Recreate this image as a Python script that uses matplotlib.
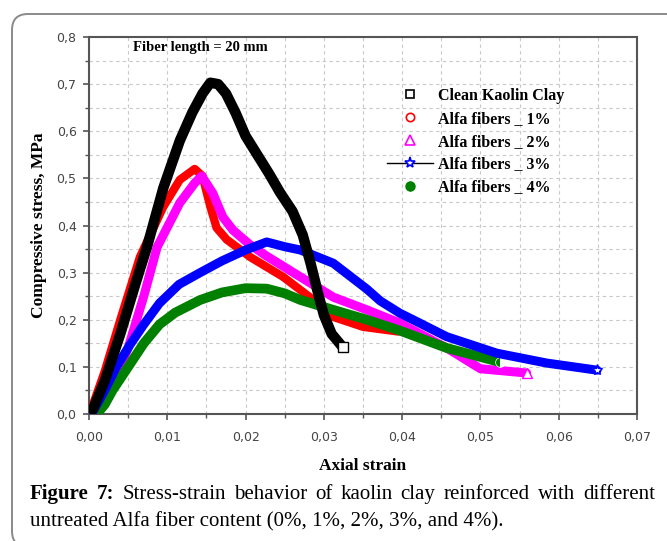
import matplotlib
matplotlib.use("Agg")
import matplotlib.pyplot as plt
from matplotlib.patches import FancyBboxPatch
from matplotlib.lines import Line2D
from matplotlib.ticker import MultipleLocator, FuncFormatter

# ---- data ----
clean_x = [0.0005, 0.002, 0.004, 0.006, 0.0074, 0.0095, 0.0116, 0.0132, 0.0145, 0.0155,
           0.0165, 0.0175, 0.0187, 0.020, 0.0215, 0.023, 0.0244, 0.026, 0.0273, 0.0283,
           0.0292, 0.030, 0.031, 0.0324]
clean_y = [0.01, 0.07, 0.17, 0.28, 0.354, 0.48, 0.58, 0.64, 0.68, 0.703,
           0.70, 0.68, 0.64, 0.59, 0.55, 0.51, 0.47, 0.43, 0.38, 0.32,
           0.26, 0.21, 0.17, 0.142]

f1_x = [0.0003, 0.002, 0.004, 0.0065, 0.0095, 0.0116, 0.0135, 0.0145, 0.0155, 0.0163,
        0.0176, 0.0206, 0.0248, 0.0282, 0.0312, 0.035, 0.0395]
f1_y = [0.01, 0.09, 0.20, 0.333, 0.44, 0.497, 0.52, 0.505, 0.44, 0.395,
        0.37, 0.333, 0.291, 0.248, 0.206, 0.185, 0.175]

f2_x = [0.001, 0.003, 0.005, 0.007, 0.0087, 0.0116, 0.0135, 0.0144, 0.0158, 0.0171,
        0.0184, 0.0205, 0.0227, 0.027, 0.0312, 0.0355, 0.0397, 0.0457, 0.050, 0.0559]
f2_y = [0.005, 0.06, 0.14, 0.25, 0.354, 0.448, 0.49, 0.505, 0.469, 0.418,
        0.39, 0.36, 0.335, 0.291, 0.248, 0.221, 0.193, 0.14, 0.096, 0.087]

f3_x = [0.0005, 0.002, 0.0035, 0.0052, 0.007, 0.009, 0.0115, 0.0142, 0.017, 0.020,
        0.0227, 0.025, 0.027, 0.0312, 0.0355, 0.0372, 0.0397, 0.0414, 0.0457, 0.0521,
        0.0585, 0.0649]
f3_y = [0.005, 0.05, 0.10, 0.146, 0.19, 0.235, 0.275, 0.30, 0.325, 0.348,
        0.365, 0.355, 0.348, 0.32, 0.265, 0.24, 0.214, 0.20, 0.164, 0.129,
        0.108, 0.093]

f4_x = [0.001, 0.002, 0.003, 0.005, 0.007, 0.009, 0.011, 0.0142, 0.017, 0.020,
        0.0227, 0.025, 0.027, 0.0312, 0.0355, 0.0397, 0.0457, 0.0525]
f4_y = [0.0, 0.02, 0.05, 0.10, 0.15, 0.19, 0.215, 0.242, 0.258, 0.267,
        0.266, 0.256, 0.242, 0.221, 0.20, 0.177, 0.14, 0.11]

labels = ["Clean Kaolin Clay", "Alfa fibers _ 1%", "Alfa fibers _ 2%",
          "Alfa fibers _ 3%", "Alfa fibers _ 4%"]
x_ticks = [0.00, 0.01, 0.02, 0.03, 0.04, 0.05, 0.06, 0.07]
y_ticks = [0.0, 0.1, 0.2, 0.3, 0.4, 0.5, 0.6, 0.7, 0.8]

W, H = 667, 541
fig = plt.figure(figsize=(W / 100, H / 100), dpi=100)

# rounded outer frame
frame = FancyBboxPatch((12, -6), 700, 533, boxstyle="round,pad=0,rounding_size=16",
                       transform=None, facecolor="white", edgecolor="#8a8a8a",
                       linewidth=1.4, zorder=-10)
fig.patches.append(frame)

ax = fig.add_axes([89 / W, 1 - 414 / H, (637 - 89) / W, (414 - 37) / H])
ax.set_xlim(0, 0.07)
ax.set_ylim(0, 0.8)

series = [
    (clean_x, clean_y, "black", "s", 7.5, 7),
    (f1_x, f1_y, "#ff0000", "o", 6.0, 3),
    (f2_x, f2_y, "#ff00ff", "^", 6.5, 4),
    (f3_x, f3_y, "#0000ff", "*", 6.5, 6),
    (f4_x, f4_y, "#008000", "o", 7.0, 5),
]
for i, (xs, ys, c, m, lw, z) in enumerate(series):
    ax.plot(xs, ys, color=c, lw=lw, solid_capstyle="round", solid_joinstyle="round",
            zorder=z)
    if i != 1:
        kw = dict(marker=m, ms=7 if m != "*" else 8, mec=c, mfc="white", mew=1.0)
        if i == 4:
            kw = dict(marker="o", ms=7, mec="white", mfc=c, fillstyle="left",
                      markerfacecoloralt="white", mew=0.5)
        ax.plot([xs[-1]], [ys[-1]], linestyle="none", zorder=z + 0.5, **kw)

ax.set_xticks(x_ticks)
ax.set_yticks(y_ticks)
ax.xaxis.set_minor_locator(MultipleLocator(0.005))
ax.yaxis.set_minor_locator(MultipleLocator(0.05))
ax.xaxis.set_major_formatter(FuncFormatter(lambda v, p: f"{v:.2f}".replace(".", ",")))
ax.yaxis.set_major_formatter(FuncFormatter(lambda v, p: f"{v:.1f}".replace(".", ",")))
ax.grid(True, which="both", color="#c8c8c8", linestyle=(0, (3, 3)), linewidth=0.8)
ax.set_axisbelow(True)
ax.tick_params(which="both", direction="out", colors="#555555", labelcolor="#444444",
               labelsize=9)
ax.tick_params(which="major", length=4, width=1.2)
ax.tick_params(which="minor", length=3, width=1.0)
ax.tick_params(axis="x", pad=8)
ax.tick_params(axis="y", pad=5)
for s in ax.spines.values():
    s.set_color("#555555")
    s.set_linewidth(1.5)

serif = "Liberation Serif"
ax.set_xlabel("Axial strain", fontfamily=serif, fontweight="bold", fontsize=12.5,
              labelpad=10)
ax.set_ylabel("Compressive stress, MPa", fontfamily=serif, fontweight="bold",
              fontsize=12.5, labelpad=7)

ax.text((133 - 89) / 548, (414 - 48) / 377, "Fiber length = 20 mm", transform=ax.transAxes,
        fontfamily=serif, fontweight="bold", fontsize=10.5, va="center", ha="left")

handles = [
    Line2D([], [], linestyle="none", marker="s", ms=6, mec="black", mfc="white", mew=1.2),
    Line2D([], [], linestyle="none", marker="o", ms=6, mec="#ff0000", mfc="white", mew=1.2),
    Line2D([], [], linestyle="none", marker="^", ms=6.5, mec="#ff00ff", mfc="white", mew=1.2),
    Line2D([], [], color="black", lw=1.0, marker="*", ms=8, mec="#0000ff", mfc="white", mew=1.2),
    Line2D([], [], linestyle="none", marker="o", ms=6.5, mec="#008000", mfc="#008000",
           fillstyle="left", markerfacecoloralt="#008000", mew=1.0),
]
ax.legend(handles, labels, loc="upper left", bbox_to_anchor=((387 - 89) / 548, 0.865),
          frameon=False, prop={"family": serif, "weight": "bold", "size": 11.5},
          handlelength=2.9, handletextpad=0.3, labelspacing=0.43, borderpad=0,
          borderaxespad=0)

# caption, justified first line
fig.canvas.draw()
renderer = fig.canvas.get_renderer()
left, right = 30, 655
y1 = H - 499
y2 = H - 526
cap_size = 15
words1 = [("Figure", "bold"), ("7:", "bold"), ("Stress-strain", "normal"),
          ("behavior", "normal"), ("of", "normal"), ("kaolin", "normal"),
          ("clay", "normal"), ("reinforced", "normal"), ("with", "normal"),
          ("different", "normal")]
objs = []
widths = []
for w, wt in words1:
    t = fig.text(0, y1 / H, w, fontfamily=serif, fontweight=wt, fontsize=cap_size,
                 va="baseline", ha="left")
    objs.append(t)
    widths.append(t.get_window_extent(renderer).width)
gap = (right - left - sum(widths)) / (len(words1) - 1)
xpos = left
for t, wd in zip(objs, widths):
    t.set_x(xpos / W)
    xpos += wd + gap
fig.text(left / W, y2 / H, "untreated Alfa fiber content (0%, 1%, 2%, 3%, and 4%).",
         fontfamily=serif, fontsize=cap_size, va="baseline", ha="left")

fig.savefig("out.png", dpi=100)
